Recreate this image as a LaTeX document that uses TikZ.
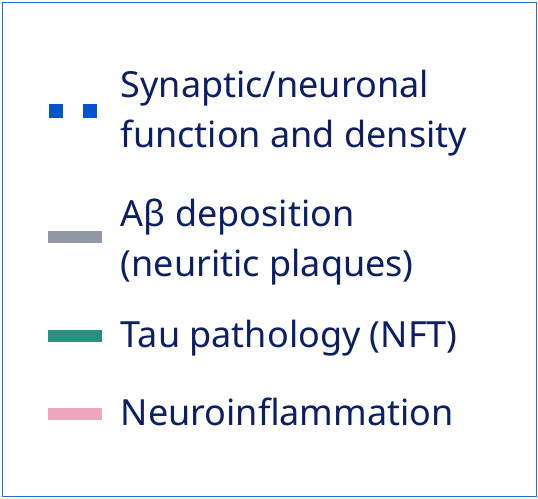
\documentclass[tikz,border=0pt]{standalone}
\usepackage{fontspec}
\setmainfont{Noto Sans}
\definecolor{txt}{RGB}{12,30,102}
\definecolor{frame}{RGB}{40,110,215}
\definecolor{synblue}{RGB}{0,85,204}
\definecolor{abgray}{RGB}{146,153,166}
\definecolor{tauteal}{RGB}{42,143,131}
\definecolor{inflpink}{RGB}{238,166,192}
\tikzset{
  lbl/.style={anchor=base west, inner sep=0pt, text=txt, font=\fontsize{36}{42}\selectfont},
  swatch/.style={line width=12pt},
}
\begin{document}
\begin{tikzpicture}[x=1pt,y=-1pt]
\useasboundingbox (0,0) rectangle (538,498);
\draw[frame, line width=1.3pt] (2.3,2.3) rectangle (536.5,496.5);
% swatches
\coordinate (s1a) at (49,111); \coordinate (s1b) at (97,111);
\draw[synblue, line width=14pt, dash pattern=on 14pt off 20pt] (s1a) -- (s1b);
\coordinate (s2a) at (48,237); \coordinate (s2b) at (102,237);
\draw[abgray, swatch] (s2a) -- (s2b);
\coordinate (s3a) at (48,336); \coordinate (s3b) at (102,336);
\draw[tauteal, swatch] (s3a) -- (s3b);
\coordinate (s4a) at (48,413.5); \coordinate (s4b) at (102,413.5);
\draw[inflpink, swatch] (s4a) -- (s4b);
% labels
\node[lbl] (t1a) at (120.5,97.5) {Synaptic/neuronal};
\node[lbl] (t1b) at (120.5,147.5) {function and density};
\node[lbl] (t2a) at (120.5,226.5) {Aβ deposition};
\node[lbl] (t2b) at (120.5,276) {(neuritic plaques)};
\node[lbl] (t3) at (120.5,347.5) {Tau pathology (NFT)};
\node[lbl] (t4) at (120.5,425) {Neuroinflammation};
\end{tikzpicture}
\end{document}
